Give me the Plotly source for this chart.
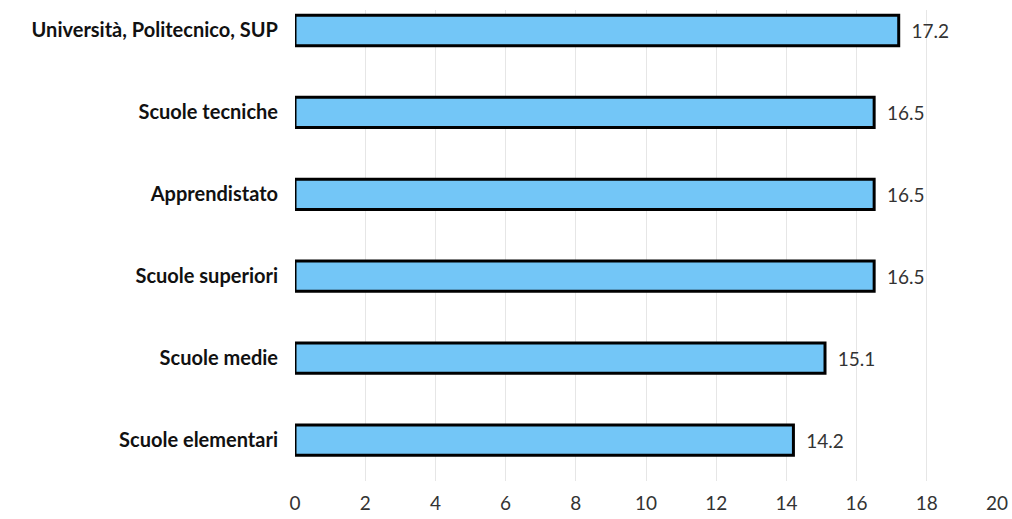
import plotly.graph_objects as go

categories = ["Scuole elementari", "Scuole medie", "Scuole superiori",
              "Apprendistato", "Scuole tecniche", "Università, Politecnico, SUP"]
values = [14.2, 15.1, 16.5, 16.5, 16.5, 17.2]
x_ticks = [0, 2, 4, 6, 8, 10, 12, 14, 16, 18, 20]

fig = go.Figure(go.Bar(
    y=categories, x=values, orientation="h",
    marker=dict(color="#73C6F7", line=dict(color="#000000", width=3)),
    width=0.37,
    text=["\u00a0\u00a0" + f"{v:.1f}" for v in values], textposition="outside",
    textfont=dict(family="Lato", size=19, color="#333333"),
    cliponaxis=False,
))

fig.update_layout(
    width=1012, height=519,
    margin=dict(l=295, r=15, t=10, b=38, autoexpand=False),
    plot_bgcolor="white", paper_bgcolor="white",
    showlegend=False,
    xaxis=dict(range=[0, 20], tickvals=x_ticks, showgrid=True, gridcolor="#e6e6e6",
               gridwidth=1, zeroline=False, showline=False, automargin=False,
               tickfont=dict(family="Lato", size=19, color="#333333"), ticks="",
               ticklabelstandoff=9),
    yaxis=dict(range=[-0.5, 5.25], showgrid=False, zeroline=False, showline=False,
               automargin=False,
               tickfont=dict(family="Lato", size=20, color="#111111", weight="bold"),
               ticks="", ticklabelstandoff=16),
)

fig.write_html("out.html", config={"displayModeBar": False},
               post_script="document.body.style.margin='0';document.body.style.overflow='hidden';")
